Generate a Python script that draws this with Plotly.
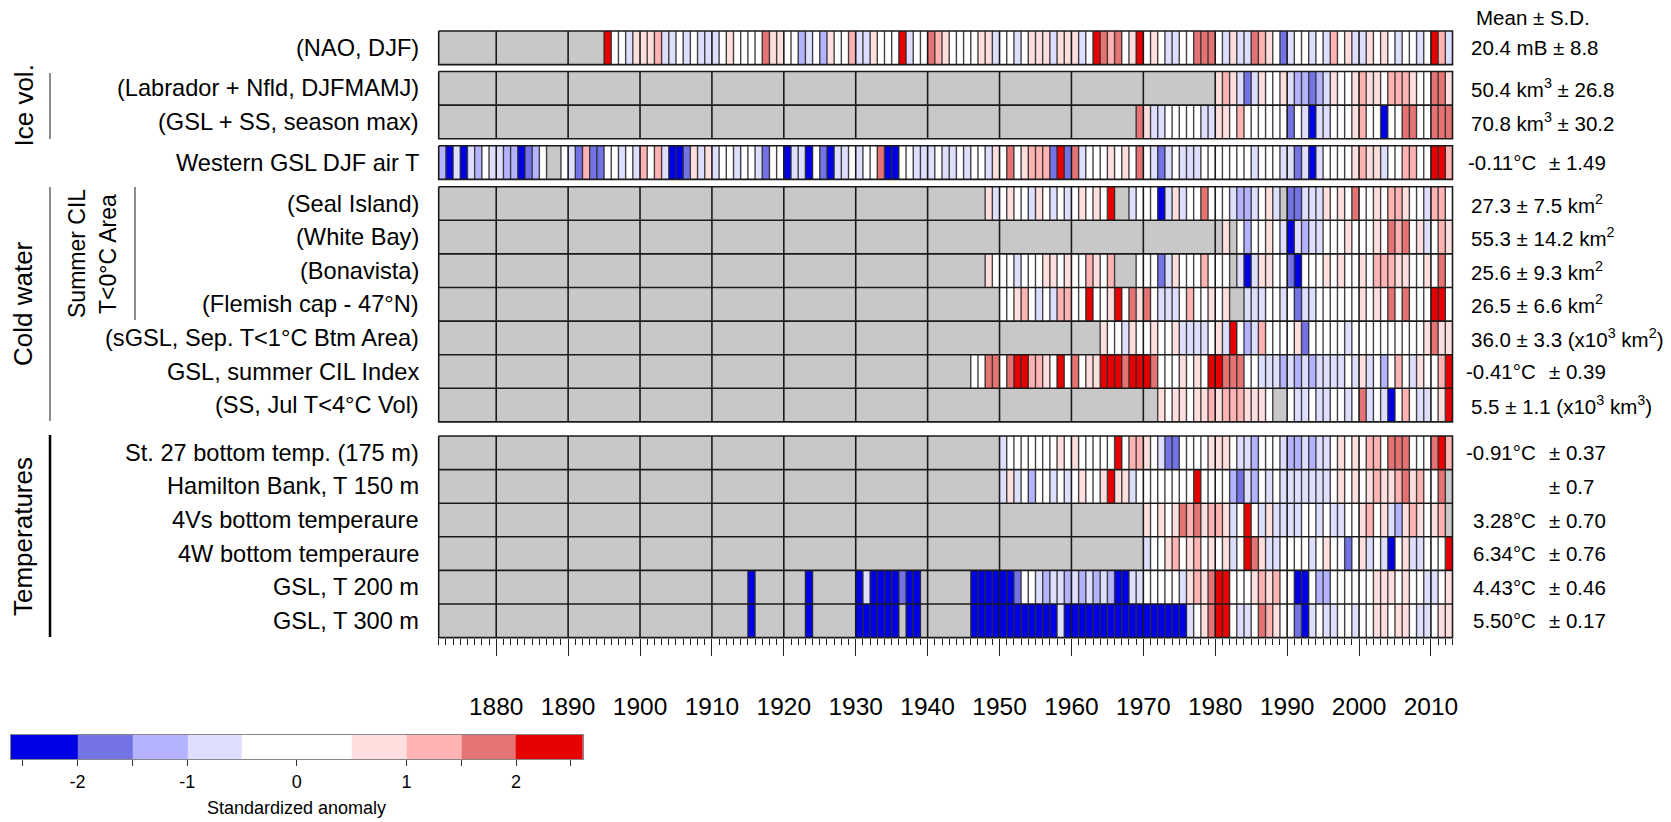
import plotly.graph_objects as go
import numpy as np

# ---------------- data (standardized anomalies, None = missing) ----------------
YEAR0, YEAR1 = 1872, 2012

nao_start = 1895
nao = [2.5, 0, 0, -0.75, 0.75,
       0.75, 0.75, 1.25, -0.75, -0.75, 0, -0.75, 0, -0.75, -0.75,
       -0.75, 0, 0.75, 0, 0, 0, 0, 1.75, 0.75, 0.75,
       0, 0, -1.25, -0.75, 0, -1.25, 0.75, 0, 0, 1.25,
       -0.75, -0.75, 0.75, 0, 0, 0, 2.5, -0.75, 0, 0,
       1.75, 1.25, 0.75, 0, 0, 0, 0, 0.75, 0.75, -0.75,
       0, 0, -0.75, 0, 0.75, 0.75, 0.75, -0.75, 0.75, 0.75,
       0.75, -0.75, 0, 2.5, 1.75, 1.25, 1.75, 0, 0.75, 2.5,
       0, 0.75, 0, -0.75, -0.75, 0, 0, 1.75, 1.75, 1.75,
       0, -0.75, 0.75, -0.75, -0.75, 1.75, 1.25, 0.75, 0, -1.75,
       -0.75, 0, 0, -0.75, 0, -0.75, 1.25, 0, 0.75, -0.75,
       -0.75, 0.75, 0, 0.75, 0, -0.75, 0, 0, -0.75, 0,
       2.5, 1.25, -0.75]

lab_ice_start = 1980
lab_ice = [0.75, 1.25, 0.75, -0.75, -1.75, -0.75, 0.75, 0, 0, 0.75,
           -0.75, -1.25, -1.25, -1.75, -1.25, -0.75, 0.75, 0, 0, 0.75,
           1.25, 0.75, 0.75, 0, 1.25, 1.25, 1.25, 0.75, 0, 0,
           1.75, 1.75, 0.75]

gsl_ice_start = 1969
gsl_ice = [1.75,
           0.75, -0.75, -0.75, 0, 0, 0, 0, 0, -0.75, -0.75,
           0.75, 0.75, 0, 1.25, 0, 0, 0, 0, 0, 0,
           -1.75, 0, -0.75, -2.5, -0.75, -0.75, 0, 0, 0, 0.75,
           1.25, 0, 0, -2.5, 0, 0, 1.75, 1.75, 0, 0,
           1.75, 1.75, 1.75]

airt_start = 1872
airt = [-1.25, -2.5, -0.75, -2.5, -0.75, -1.25, 0, -0.75,
        -0.75, -1.25, -1.25, -2.5, -1.75, -1.25, 0, None, None, 0,
        -0.75, -1.75, 1.25, -1.75, -1.75, 0, 0, -0.75, 0, -0.75,
        1.25, 0, 1.25, -0.75, -2.5, -2.5, -1.75, 0.75, -0.75, 0.75,
        -0.75, 0, 0, -0.75, 0, 0, -0.75, -1.75, 0, 0,
        -2.5, -0.75, -0.75, -2.5, 0, -1.75, -2.5, -0.75, -0.75, 0,
        -0.75, 0, 0, 1.75, -2.5, -2.5, 0, 0, -0.75, -0.75,
        -0.75, 0, -0.75, -0.75, 0, -0.75, 0, 0, -0.75, 0.75,
        0, 1.75, 0, 0.75, 1.25, 1.25, 1.25, -1.75, 2.5, -1.75,
        1.75, -0.75, 0, 0, 0, 0.75, 0, 0.75, 0, 1.75,
        0, -0.75, -1.75, -0.75, 0, -0.75, -0.75, -0.75, 0, 0,
        0, 0, 0, 0, 0, -0.75, 0, 0, 0, -0.75,
        -0.75, -1.75, -0.75, -2.5, -0.75, 0, 0, 0, 0, 0.75,
        1.25, 0.75, 0.75, -0.75, 0, 0, 1.25, 1.25, 0, 0,
        2.5, 2.5, 1.25]

seal_start = 1948
seal = [0.75, -0.75,
        0, 0.75, 0, 0, -0.75, 0.75, 0, -0.75, 0, -0.75,
        0, 0.75, 0, 0.75, 0, 2.5, None, None, -0.75, 0,
        0, 0, -2.5, -0.75, 0.75, -0.75, 0, 0, 1.75, 0,
        0, 0, -0.75, -1.25, -1.25, -0.75, 0, 0.75, -0.75, None,
        -1.75, -1.75, -0.75, -0.75, -0.75, 0.75, 0, 0.75, 0, 1.75,
        0, 0, 0.75, 0, 1.25, 1.25, 0.75, 0, 0, -0.75,
        1.25, 1.25, 0]

white_bay_start = 1980
white_bay = [None, 0.75, None, 0, -1.25, 0, 0, 0.75, 0, -0.75,
             -2.5, -0.75, -1.25, -0.75, -0.75, 0, 0, 0, 0.75, 0,
             0, 0, 0.75, 0, 1.75, 1.25, 1.75, 0, 0.75, -0.75,
             0, 1.25, 0.75]

bonavista_start = 1948
bonavista = [0.75, 0,
             0, 0, -0.75, 0, 0, 0, 0.75, 0.75, 0, 0.75,
             0, 0, 1.25, 0.75, 0, 1.25, None, None, None, 0,
             0, 0, -1.75, -0.75, 0.75, 0, 0, 0, 1.25, 0,
             0, 0, None, -0.75, -2.5, -0.75, 0.75, 0.75, 0, 0,
             -1.75, -2.5, 0, 0, 0, 0.75, 0, 0.75, 0, 0,
             0.75, 0, 1.25, 1.25, 1.25, 0.75, 0.75, 0, 0, 0.75,
             0, 1.75, 0]

flemish_start = 1950
flemish = [0, 0, 0.75, 1.25, 0, -0.75, 0, -0.75, 1.25, 1.25,
           0, 0, 2.5, 0, 0, 0.75, 2.5, 0, 1.75, 0.75,
           1.75, 0, -0.75, -0.75, -0.75, 0, 1.25, 0, 0, 0.75,
           0, 0.75, None, None, -0.75, -0.75, -0.75, 0, 0, -0.75,
           0, -1.75, -0.75, -0.75, 0, 0, 0, 0, 0, 0,
           0.75, 0, 0.75, 0, 1.75, 0, 1.75, 0, 0, 0,
           2.5, 2.5, 0]

sgsl_start = 1964
sgsl = [0.75, 0, 0, -0.75, 0.75, 0,
        0, 0.75, 0, 0, 0.75, -0.75, -0.75, -0.75, -0.75, 0,
        0.75, -0.75, 2.5, 0, -1.25, -0.75, 1.25, 0, 0, 0,
        0, 0.75, -1.75, 0, 0, 0, 0, 0, -0.75, 0,
        0, 0, 0, 0, 0, 0, 0, 0, 0, 0.75,
        1.75, 0.75, 0.75]

cil_start = 1946
cil = [0, 0, 1.75, 1.75,
       0, 1.75, 2.5, 2.5, 1.25, 1.25, 0.75, 0, 2.5, 0,
       1.75, 0, 0.75, 0.75, 2.5, 2.5, 2.5, 1.75, 2.5, 2.5,
       2.5, 1.75, 0, 0, 0, 0.75, 0, 0.75, 0, 2.5,
       2.5, 1.75, 1.75, 1.75, 0, 0, -0.75, -0.75, -0.75, -1.25,
       -0.75, -1.25, -0.75, -1.25, -0.75, -0.75, -0.75, -0.75, 0, -0.75,
       0.75, -0.75, 0, -1.25, 0, 1.25, 0, -0.75, 0.75, 0,
       0, 1.25, 2.5]

ss_vol_start = 1972
ss_vol = [0.75, 0, 0.75, 0.75, 0, 0.75, 0.75, 1.25,
          0.75, 1.25, 1.25, 1.25, 0.75, 0.75, 0.75, 0, None, None,
          0, -0.75, -0.75, 0, -0.75, -0.75, 0, 0, -0.75, 0,
          1.75, -0.75, 0, -0.75, -2.5, 0, 1.25, 0, -0.75, -0.75,
          0, 0.75, 2.5]

st27_start = 1950
st27 = [-0.75, 0, 0, 0, 0, 0, 0, 0, 0.75, 0,
        0.75, 0, 0, 0, 0, 0, 2.5, 0, 1.25, 1.25,
        0.75, 0, -0.75, -1.75, -1.75, 0, 0, 0, 0, 0.75,
        0.75, 0.75, 0, -0.75, -0.75, -1.25, 0, 0, 0, -0.75,
        -1.25, -1.25, -0.75, -1.25, -0.75, -0.75, 0, 0.75, 0, 0.75,
        0, 1.25, 1.25, 0, 1.75, 1.75, 1.75, 0, 0, 0,
        1.75, 2.5, 1.25]

hamilton_start = 1950
hamilton = [-0.75, 0.75, -0.75, 0, -1.25, 0, 0, -0.75, 0, -0.75,
            0, 0.75, 0, 0, 0.75, 2.5, 0.75, 0.75, -0.75, 0,
            0, 0, 0, 0, 0, 0, 0, 2.5, 0, 0,
            0, 0, -1.25, -1.75, -0.75, -1.25, 0, -0.75, 0, -0.75,
            -0.75, -0.75, -0.75, -0.75, -0.75, -0.75, 0, 0.75, 0, 0.75,
            0, 0.75, 1.25, 0.75, 0.75, 1.25, 1.75, 0.75, 1.25, 0,
            0, 1.75, None]

t4vs_start = 1970
t4vs = [0.75, 0, 0.75, 0, 0.75, 1.75, 1.25, 1.75, 0.75, 1.25,
        1.25, 0.75, -0.75, 0, 2.5, 0, -0.75, 0.75, -0.75, -0.75,
        -0.75, -0.75, 0, 0, -0.75, 0, -0.75, -0.75, 0, 0,
        0.75, 1.25, 0, 0.75, -0.75, -1.25, 0.75, 1.25, 0.75, 0,
        0.75, 1.25, None]

t4w_start = 1970
t4w = [-0.75, 0, 0, 0.75, 1.25, 0, 0.75, 1.25, 0, 0.75,
       0, 0.75, -0.75, 0, 2.5, 1.75, 0.75, -0.75, -0.75, 0,
       0, 0, 0, -0.75, 0, 0.75, 0, 0, -1.75, 0,
       0.75, -0.75, 0, -0.75, -2.5, 0, 0.75, -0.75, -0.75, 0,
       0, 0, 2.5]

t200_start = 1915
t200 = [-2.5, None, None, None, None, None, None, None,
        -2.5, None, None, None, None, None, None,
        -2.5, -0.75, -2.5, -2.5, -2.5, -2.5, -1.75, -2.5, -2.5, None,
        None, None, None, None, None, None, -2.5, -2.5, -2.5, -2.5,
        -2.5, -2.5, -1.75, 0, 0, -0.75, -1.25, -0.75, -0.75, -1.25,
        -0.75, -1.25, -0.75, -1.25, -0.75, -1.25, -2.5, -2.5, -0.75, -0.75,
        0, 0, 0, 0, 0, -0.75, 0.75, 1.25, 0.75, 1.75,
        2.5, 2.5, 0, 0, 0, 0.75, 1.25, 0.75, 1.25, 0,
        0, -2.5, -2.5, 0, -1.25, -1.25, 0, 0, 0, 0,
        0, 0, 0.75, 0.75, 0.75, 0, 0.75, 0, 0, -0.75,
        -0.75, 0, 0.75]

t300_start = 1915
t300 = [-2.5, None, None, None, None, None, None, None,
        -2.5, None, None, None, None, None, None,
        -2.5, -2.5, -2.5, -2.5, -2.5, -2.5, None, -2.5, -2.5, None,
        None, None, None, None, None, None, -2.5, -2.5, -2.5, -2.5,
        -2.5, -2.5, -2.5, -2.5, -2.5, -2.5, -2.5, -2.5, -0.75, -2.5,
        -2.5, -2.5, -2.5, -2.5, -2.5, -2.5, -2.5, -2.5, -2.5, -2.5,
        -2.5, -2.5, -2.5, -2.5, -2.5, -2.5, -0.75, 0, 0.75, 1.75,
        2.5, 2.5, 0, -0.75, -0.75, 0, 1.75, 1.25, 0.75, 0,
        0, -1.75, -2.5, -0.75, 0, -0.75, -0.75, 0, 0, -0.75,
        0, 0, 0.75, 0.75, 0, 0.75, 0.75, 0, -0.75, -0.75,
        0, 0.75, 0.75]

row_labels = ["(NAO, DJF)", "(Labrador + Nfld, DJFMAMJ)", "(GSL + SS, season max)",
              "Western GSL DJF air T", "(Seal Island)", "(White Bay)", "(Bonavista)",
              "(Flemish cap - 47°N)", "(sGSL, Sep. T&lt;1°C Btm Area)", "GSL, summer CIL Index",
              "(SS, Jul T&lt;4°C Vol)", "St. 27 bottom temp. (175 m)", "Hamilton Bank, T 150 m",
              "4Vs bottom temperaure", "4W bottom temperaure", "GSL, T 200 m", "GSL, T 300 m"]

# right-hand statistics: (mean part, sd part); mean None => single string in sd part
stats = [(None, "20.4 mB ± 8.8"),
         (None, "50.4 km<sup>3</sup> ± 26.8"),
         (None, "70.8 km<sup>3</sup> ± 30.2"),
         ("-0.11°C", "± 1.49"),
         (None, "27.3 ± 7.5 km<sup>2</sup>"),
         (None, "55.3 ± 14.2 km<sup>2</sup>"),
         (None, "25.6 ± 9.3 km<sup>2</sup>"),
         (None, "26.5 ± 6.6 km<sup>2</sup>"),
         (None, "36.0 ± 3.3 (x10<sup>3</sup> km<sup>2</sup>)"),
         ("-0.41°C", "± 0.39"),
         (None, "5.5 ± 1.1 (x10<sup>3</sup> km<sup>3</sup>)"),
         ("-0.91°C", "± 0.37"),
         ("", "± 0.7"),
         ("3.28°C", "± 0.70"),
         ("6.34°C", "± 0.76"),
         ("4.43°C", "± 0.46"),
         ("5.50°C", "± 0.17")]

series_list = [(nao_start, nao), (lab_ice_start, lab_ice), (gsl_ice_start, gsl_ice),
               (airt_start, airt), (seal_start, seal), (white_bay_start, white_bay),
               (bonavista_start, bonavista), (flemish_start, flemish), (sgsl_start, sgsl),
               (cil_start, cil), (ss_vol_start, ss_vol), (st27_start, st27),
               (hamilton_start, hamilton), (t4vs_start, t4vs), (t4w_start, t4w),
               (t200_start, t200), (t300_start, t300)]

group_of_row = [0, 1, 1, 2, 3, 3, 3, 3, 3, 3, 3, 4, 4, 4, 4, 4, 4]

bin_edges = [-2, -1.5, -1, -0.5, 0.5, 1, 1.5, 2]
bin_colors = ["rgb(0,0,230)", "rgb(115,115,230)", "rgb(179,179,255)", "rgb(222,222,255)",
              "rgb(255,255,255)", "rgb(255,222,222)", "rgb(255,179,179)", "rgb(230,115,115)",
              "rgb(230,0,0)", "rgb(200,200,200)"]

# ---------------- layout constants (pixels) ----------------
W, H = 1671, 822
FONT = "Liberation Sans, Arial, Helvetica, sans-serif"
X0, X1 = 438.7, 1452.5
NY = YEAR1 - YEAR0 + 1
PPY = (X1 - X0) / NY
RH = 33.6
group_tops = [31.0, 71.5, 145.8, 186.7, 436.0]
YTOP = group_tops[0]
YBOT = group_tops[4] + 6 * RH
PAD = 3

nrows_group = [group_of_row.count(g) for g in range(5)]

def full_series(start, vals):
    s = [None] * (start - YEAR0) + list(vals)
    s = (s + [None] * NY)[:NY]
    return s

def to_bins(s):
    return [9 if v is None else int(np.digitize(v, bin_edges)) for v in s]

colorscale = []
for i, c in enumerate(bin_colors):
    colorscale += [[i / 10, c], [(i + 1) / 10, c]]

fig = go.Figure()
x_edges = list(range(YEAR0, YEAR1 + 2))

row_pos = []
counter = [0] * 5
for r, g in enumerate(group_of_row):
    top = group_tops[g] + counter[g] * RH
    counter[g] += 1
    row_pos.append((top, top + RH))

full = [full_series(s, v) for s, v in series_list]

for g in range(5):
    idx = [r for r in range(len(group_of_row)) if group_of_row[r] == g]
    z = [to_bins(full[r]) for r in idx]
    y_edges = [group_tops[g] + k * RH for k in range(len(idx) + 1)]
    fig.add_trace(go.Heatmap(x=x_edges, y=y_edges, z=z, colorscale=colorscale,
                             zmin=-0.5, zmax=9.5, showscale=False, hoverinfo="skip",
                             xaxis="x", yaxis="y"))

# cell borders (only next to data cells)
bx, by = [], []
for r, s in enumerate(full):
    top, bot = row_pos[r]
    for b in range(YEAR0 + 1, YEAR1 + 1):
        if b % 10 == 0:
            continue
        if s[b - 1 - YEAR0] is None and s[b - YEAR0] is None:
            continue
        bx += [b, b, None]
        by += [top, bot, None]
fig.add_trace(go.Scatter(x=bx, y=by, mode="lines", line=dict(color="rgba(45,45,45,0.9)", width=1.4),
                         hoverinfo="skip", showlegend=False))

dx, dy, hx, hy = [], [], [], []
for g in range(5):
    top = group_tops[g]
    bot = top + nrows_group[g] * RH
    for d in range(1880, YEAR1 + 1, 10):
        dx += [d, d, None]
        dy += [top, bot, None]
    for k in range(1, nrows_group[g]):
        hx += [YEAR0, YEAR1 + 1, None]
        hy += [top + k * RH, top + k * RH, None]
    hx += [YEAR0, YEAR1 + 1, YEAR1 + 1, YEAR0, YEAR0, None]
    hy += [top, top, bot, bot, top, None]
fig.add_trace(go.Scatter(x=dx, y=dy, mode="lines", line=dict(color="#1a1a1a", width=1.6),
                         hoverinfo="skip", showlegend=False))
fig.add_trace(go.Scatter(x=hx, y=hy, mode="lines", line=dict(color="#1a1a1a", width=1.6),
                         hoverinfo="skip", showlegend=False))

cb_edges = [-2.61, -2, -1.5, -1, -0.5, 0.5, 1, 1.5, 2, 2.61]
fig.add_trace(go.Heatmap(x=cb_edges, y=[0, 1], z=[list(range(9))], colorscale=colorscale,
                         zmin=-0.5, zmax=9.5, showscale=False, hoverinfo="skip",
                         xaxis="x2", yaxis="y2"))

annotations = []
for r, lab in enumerate(row_labels):
    top, bot = row_pos[r]
    yc = 1 - (top + bot) / 2 / H
    annotations.append(dict(text=lab, x=421 / W, y=yc, xref="paper", yref="paper",
                            xanchor="right", yanchor="middle", showarrow=False,
                            font=dict(family=FONT, size=23.6, color="black")))
    mean, sd = stats[r]
    if mean is None:
        annotations.append(dict(text=sd, x=1469 / W, y=yc, xref="paper", yref="paper",
                                xanchor="left", yanchor="middle", showarrow=False,
                                font=dict(family=FONT, size=20.5, color="black")))
    else:
        if mean:
            annotations.append(dict(text=mean, x=1538 / W, y=yc, xref="paper", yref="paper",
                                    xanchor="right", yanchor="middle", showarrow=False,
                                    font=dict(family=FONT, size=20.5, color="black")))
        annotations.append(dict(text=sd, x=1547 / W, y=yc, xref="paper", yref="paper",
                                xanchor="left", yanchor="middle", showarrow=False,
                                font=dict(family=FONT, size=20.5, color="black")))

annotations.append(dict(text="Mean ± S.D.", x=1533 / W, y=1 - 18 / H, xref="paper", yref="paper",
                        xanchor="center", yanchor="middle", showarrow=False,
                        font=dict(family=FONT, size=20.5, color="black")))

grp_labels = [("Ice vol.", 23, 105.5, 26), ("Cold water", 23, 304, 26), ("Temperatures", 23, 537, 26),
              ("Summer CIL", 77, 254, 23), ("T&lt;0°C Area", 108, 254, 23)]
for t, xp, yp, fs in grp_labels:
    annotations.append(dict(text=t, x=xp / W, y=1 - yp / H, xref="paper", yref="paper",
                            xanchor="center", yanchor="middle", textangle=-90, showarrow=False,
                            font=dict(family=FONT, size=fs, color="black")))

annotations.append(dict(text="Standardized anomaly", x=296.8 / W, y=1 - 808 / H, xref="paper",
                        yref="paper", xanchor="center", yanchor="middle", showarrow=False,
                        font=dict(family=FONT, size=18, color="black")))

shapes = []
for xp, y0, y1, col, wd in [(50, 73, 139, "#8c8c8c", 2), (50, 187, 421, "#8c8c8c", 2),
                             (135, 187, 320, "#8c8c8c", 2), (50, 435, 637, "black", 2.5)]:
    shapes.append(dict(type="line", xref="paper", yref="paper", x0=xp / W, x1=xp / W,
                       y0=1 - y0 / H, y1=1 - y1 / H, line=dict(color=col, width=wd)))

fig.update_layout(
    width=W, height=H, margin=dict(l=0, r=0, t=0, b=0), template="none",
    paper_bgcolor="white", plot_bgcolor="white", showlegend=False,
    annotations=annotations, shapes=shapes,
    xaxis=dict(domain=[(X0 - PAD) / W, (X1 + PAD) / W],
               range=[YEAR0 - PAD / PPY, YEAR1 + 1 + PAD / PPY],
               anchor="free", position=1 - YBOT / H,
               tickmode="array", tickvals=list(range(1880, 2011, 10)),
               ticktext=[str(v) for v in range(1880, 2011, 10)],
               ticks="outside", ticklen=17, tickwidth=1.3, tickcolor="#222",
               ticklabelstandoff=30,
               tickfont=dict(family=FONT, size=24.5, color="black"),
               minor=dict(ticks="outside", tickmode="array", tickvals=list(range(YEAR0, YEAR1 + 2)),
                          ticklen=6, tickwidth=1, tickcolor="#222", showgrid=False),
               showgrid=False, zeroline=False, showline=False, automargin=False),
    yaxis=dict(domain=[1 - (YBOT + PAD) / H, 1 - (YTOP - PAD) / H],
               range=[YBOT + PAD, YTOP - PAD], visible=False, automargin=False),
    xaxis2=dict(domain=[10.7 / W, 583 / W], range=[-2.61, 2.61], anchor="y2",
                tickmode="array", tickvals=[-2.5, -2, -1.5, -1, 0, 1, 1.5, 2, 2.5],
                ticktext=["", "-2", "", "-1", "0", "1", "", "2", ""],
                ticks="outside", ticklen=6, tickwidth=1, tickcolor="#333",
                tickfont=dict(family=FONT, size=18, color="black"),
                showline=True, mirror=True, linecolor="#888", linewidth=1,
                showgrid=False, zeroline=False, automargin=False),
    yaxis2=dict(domain=[1 - 759 / H, 1 - 735 / H], range=[0, 1], anchor="x2",
                showticklabels=False, ticks="", showline=True, mirror=True, linecolor="#888",
                linewidth=1, showgrid=False, zeroline=False, automargin=False),
)

fig.write_html("out.html", config={"displayModeBar": False},
               post_script="document.body.style.margin='0px';document.body.style.overflow='hidden';")
